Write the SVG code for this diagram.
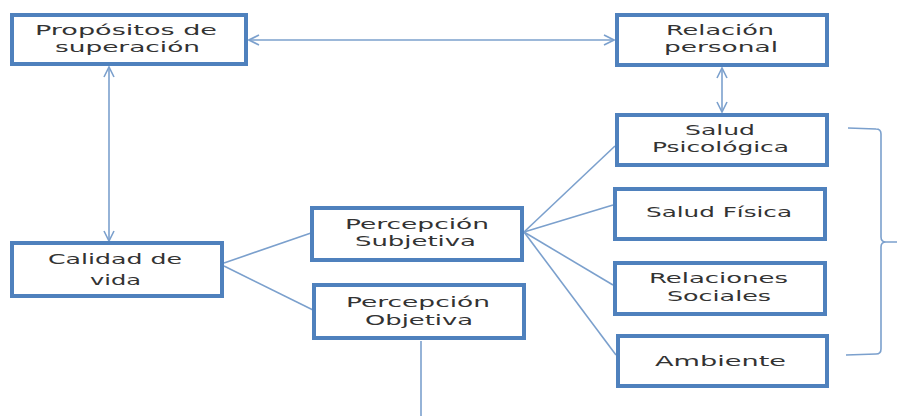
<svg xmlns="http://www.w3.org/2000/svg" width="897" height="416" viewBox="0 0 897 416">
<style>
.box{fill:#fff;stroke:#4F81BD;stroke-width:4}
.side{fill:#4F81BD}
.lbl{font-family:"DejaVu Sans","Liberation Sans",sans-serif;font-size:14px;fill:#333}
.con{fill:none;stroke:#7BA0CD;stroke-width:1.6}
</style>
<defs>
<marker id="ah" viewBox="0 0 12 12" refX="11" refY="6" markerWidth="12" markerHeight="12" markerUnits="userSpaceOnUse" orient="auto-start-reverse">
<path d="M1,1 L11,6 L1,11" fill="none" stroke="#7BA0CD" stroke-width="1.6"/>
</marker>
</defs>
<rect width="897" height="416" fill="#fff"/>
<g id="connectors">
<line class="con" x1="249" y1="40" x2="614" y2="40" marker-start="url(#ah)" marker-end="url(#ah)"/>
<line class="con" x1="109" y1="67" x2="109" y2="241" marker-start="url(#ah)" marker-end="url(#ah)"/>
<line class="con" x1="722" y1="68" x2="722" y2="112" marker-start="url(#ah)" marker-end="url(#ah)"/>
<line class="con" x1="224" y1="263" x2="311" y2="233"/>
<line class="con" x1="224" y1="266" x2="313" y2="310"/>
<line class="con" x1="421" y1="341" x2="421" y2="416"/>
<line class="con" x1="524" y1="232" x2="615" y2="146"/>
<line class="con" x1="524" y1="232" x2="613" y2="205"/>
<line class="con" x1="524" y1="232" x2="613" y2="285"/>
<line class="con" x1="524" y1="232" x2="616" y2="355"/>
<path class="con" d="M848,128 L876,129 Q881,129 881,134 L881,237 Q881,242 886,242 L897,242 M886,242 Q881,242 881,247 L881,349 Q881,354 876,354 L846,355"/>
</g>
<g id="n-propositos">
<rect class="box" x="12" y="15" width="234" height="49"/>
<text class="lbl" x="35" y="35" textLength="182" lengthAdjust="spacingAndGlyphs">Propósitos de</text>
<text class="lbl" x="55" y="52" textLength="145" lengthAdjust="spacingAndGlyphs">superación</text>
</g>
<g id="n-relacion">
<rect class="box" x="617" y="15" width="210" height="50"/>
<text class="lbl" x="666" y="35" textLength="108" lengthAdjust="spacingAndGlyphs">Relación</text>
<text class="lbl" x="664" y="52" textLength="114" lengthAdjust="spacingAndGlyphs">personal</text>
</g>
<g id="n-psicologica">
<rect class="box" x="617" y="115" width="210" height="50"/>
<text class="lbl" x="685" y="135" textLength="70" lengthAdjust="spacingAndGlyphs">Salud</text>
<text class="lbl" x="652" y="152" textLength="137" lengthAdjust="spacingAndGlyphs">Psicológica</text>
</g>
<g id="n-fisica">
<rect class="box" x="615" y="189" width="210" height="50"/>
<text class="lbl" x="646" y="217" textLength="146" lengthAdjust="spacingAndGlyphs">Salud Física</text>
</g>
<g id="n-sociales">
<rect class="box" x="615" y="263" width="210" height="51"/>
<text class="lbl" x="649" y="283" textLength="139" lengthAdjust="spacingAndGlyphs">Relaciones</text>
<text class="lbl" x="667" y="301" textLength="104" lengthAdjust="spacingAndGlyphs">Sociales</text>
</g>
<g id="n-ambiente">
<rect class="box" x="618" y="336" width="209" height="50"/>
<text class="lbl" x="655" y="366" textLength="131" lengthAdjust="spacingAndGlyphs">Ambiente</text>
</g>
<g id="n-calidad">
<rect class="box" x="12" y="243" width="210" height="53"/>
<text class="lbl" x="48" y="264" textLength="134" lengthAdjust="spacingAndGlyphs">Calidad de</text>
<text class="lbl" x="90" y="285" textLength="51" lengthAdjust="spacingAndGlyphs">vida</text>
</g>
<g id="n-subjetiva">
<rect class="box" x="312" y="208" width="210" height="52"/>
<text class="lbl" x="345" y="229" textLength="144" lengthAdjust="spacingAndGlyphs">Percepción</text>
<text class="lbl" x="355" y="246" textLength="121" lengthAdjust="spacingAndGlyphs">Subjetiva</text>
</g>
<g id="n-objetiva">
<rect class="box" x="314" y="285" width="210" height="53"/>
<text class="lbl" x="346" y="307" textLength="144" lengthAdjust="spacingAndGlyphs">Percepción</text>
<text class="lbl" x="365" y="325" textLength="108" lengthAdjust="spacingAndGlyphs">Objetiva</text>
</g>
</svg>
